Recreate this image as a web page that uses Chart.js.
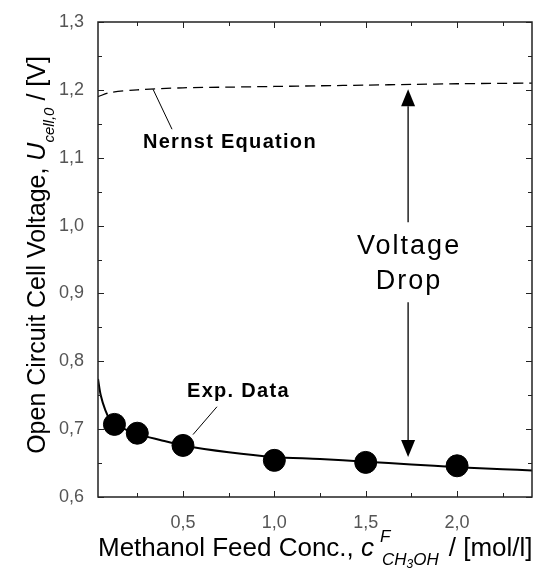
<!DOCTYPE html>
<html>
<head>
<meta charset="utf-8">
<script src="https://cdn.jsdelivr.net/npm/chart.js@4.4.1/dist/chart.umd.min.js"></script>
<style>
  html, body { margin: 0; padding: 0; background: #fff; }
  #wrap { width: 534px; height: 572px; }
</style>
</head>
<body>
<div id="wrap"><canvas id="ocvChart" width="534" height="572"></canvas></div>
<script>
// Experimental open circuit voltage
const concExp = [0.125, 0.25, 0.5, 1.0, 1.5, 2.0];
const voltExp = [0.707, 0.694, 0.676, 0.654, 0.651, 0.646];

// Fitted curve through the data
const concFit = [0.035, 0.05, 0.075, 0.1, 0.125, 0.25, 0.375, 0.5, 0.75, 1.0, 1.25, 1.5, 1.75, 2.0, 2.25, 2.41];
const voltFit = [0.774, 0.750, 0.728, 0.714, 0.707, 0.693, 0.684, 0.676, 0.666, 0.659, 0.656, 0.652, 0.648, 0.644, 0.641, 0.639];

// Nernst equation (dashed)
const concNernst = [0.035, 0.1, 0.25, 0.5, 0.75, 1.0, 1.25, 1.5, 1.75, 2.0, 2.41];
const voltNernst = [1.190, 1.196, 1.200, 1.203, 1.204, 1.205, 1.206, 1.207, 1.208, 1.209, 1.210];

// Axis ticks
const xTicks = [0.5, 1.0, 1.5, 2.0];
const yTicks = [0.6, 0.7, 0.8, 0.9, 1.0, 1.1, 1.2, 1.3];

const toPts = (xs, ys) => xs.map((x, i) => ({ x: x, y: ys[i] }));
const comma = v => v.toFixed(1).replace('.', ',');
const FONT = '"Liberation Sans", Arial, sans-serif';

// frame, inward ticks, titles and annotations
const decorPlugin = {
  id: 'decor',
  afterDraw(chart) {
    const ctx = chart.ctx;
    const a = chart.chartArea;
    const xs = chart.scales.x, ys = chart.scales.y;
    ctx.save();
    ctx.strokeStyle = '#222';
    ctx.lineWidth = 1.5;
    ctx.strokeRect(a.left, a.top, a.right - a.left, a.bottom - a.top);

    // x ticks (every 0.25, major at 0.5)
    ctx.lineWidth = 1;
    for (let v = 0.25; v < xs.max; v += 0.25) {
      if (v < xs.min) continue;
      const px = Math.round(xs.getPixelForValue(v)) + 0.5;
      const len = (Math.abs(v * 2 - Math.round(v * 2)) < 1e-6) ? 6 : 4;
      ctx.beginPath();
      ctx.moveTo(px, a.bottom); ctx.lineTo(px, a.bottom - len);
      ctx.moveTo(px, a.top); ctx.lineTo(px, a.top + len);
      ctx.stroke();
    }
    // y ticks (every 0.05, major at 0.1)
    for (let i = 0; i <= 14; i++) {
      const v = 0.6 + i * 0.05;
      const py = Math.round(ys.getPixelForValue(v)) + 0.5;
      const len = (i % 2 === 0) ? 6 : 4;
      ctx.beginPath();
      ctx.moveTo(a.left, py); ctx.lineTo(a.left + len, py);
      ctx.moveTo(a.right, py); ctx.lineTo(a.right - len, py);
      ctx.stroke();
    }

    // annotations
    ctx.fillStyle = '#000';
    ctx.strokeStyle = '#000';
    const P = (x, y) => [xs.getPixelForValue(x), ys.getPixelForValue(y)];
    const line = (p1, p2, w) => {
      ctx.lineWidth = w;
      ctx.beginPath(); ctx.moveTo(p1[0], p1[1]); ctx.lineTo(p2[0], p2[1]); ctx.stroke();
    };
    ctx.font = 'bold 20px ' + FONT;
    ctx.letterSpacing = '1.3px';
    ctx.textBaseline = 'middle';
    ctx.textAlign = 'left';
    let p = P(0.281, 1.123);
    ctx.fillText('Nernst Equation', p[0], p[1]);
    line(P(0.336, 1.201), P(0.44, 1.142), 1);
    p = P(0.522, 0.755);
    ctx.fillText('Exp. Data', p[0], p[1]);
    line(P(0.686, 0.733), P(0.555, 0.692), 1);

    // voltage drop arrow
    const ax = 1.732;
    const top = P(ax, 1.201), bot = P(ax, 0.659);
    const ah = 17, aw = 7;
    line([top[0], top[1] + ah], P(ax, 1.005), 1.3);
    line(P(ax, 0.887), [bot[0], bot[1] - ah], 1.3);
    ctx.beginPath();
    ctx.moveTo(top[0], top[1]); ctx.lineTo(top[0] - aw, top[1] + ah); ctx.lineTo(top[0] + aw, top[1] + ah);
    ctx.closePath(); ctx.fill();
    ctx.beginPath();
    ctx.moveTo(bot[0], bot[1]); ctx.lineTo(bot[0] - aw, bot[1] - ah); ctx.lineTo(bot[0] + aw, bot[1] - ah);
    ctx.closePath(); ctx.fill();
    ctx.font = '27px ' + FONT;
    ctx.letterSpacing = '2px';
    ctx.textAlign = 'center';
    p = P(ax, 0.969);
    ctx.fillText('Voltage', p[0] + 1, p[1]);
    p = P(ax, 0.918);
    ctx.fillText('Drop', p[0] + 1, p[1]);
    ctx.letterSpacing = '0px';

    // axis titles with sub/superscripts
    ctx.textAlign = 'left';
    ctx.textBaseline = 'alphabetic';

    // x title
    let x = a.left, yb = 556;
    ctx.font = '26px ' + FONT;
    ctx.fillText('Methanol Feed Conc., ', x, yb);
    x += ctx.measureText('Methanol Feed Conc., ').width;
    ctx.font = 'italic 26px ' + FONT;
    ctx.fillText('c', x, yb);
    x += ctx.measureText('c').width + 6;
    ctx.font = 'italic 17px ' + FONT;
    ctx.fillText('F', x, yb - 14);
    let sx = x + 2;
    ctx.fillText('CH', sx, yb + 9); sx += ctx.measureText('CH').width;
    ctx.font = 'italic 12px ' + FONT;
    ctx.fillText('3', sx, yb + 12); sx += ctx.measureText('3').width;
    ctx.font = 'italic 17px ' + FONT;
    ctx.fillText('OH', sx, yb + 9); sx += ctx.measureText('OH').width;
    x = sx + 10;
    ctx.font = '26px ' + FONT;
    ctx.fillText('/ [mol/l]', x, yb);

    // y title (rotated)
    ctx.save();
    ctx.translate(45, 255);
    ctx.rotate(-Math.PI / 2);
    const segs = [
      { t: 'Open Circuit Cell Voltage, ', f: '25px ' + FONT, dy: 0 },
      { t: 'U', f: 'italic 25px ' + FONT, dy: 0 },
      { t: 'cell,0', f: 'italic 15px ' + FONT, dy: 9 },
      { t: ' / [V]', f: '25px ' + FONT, dy: 0 }
    ];
    let total = 0;
    segs.forEach(s => { ctx.font = s.f; s.w = ctx.measureText(s.t).width; total += s.w; });
    let cx = -total / 2;
    segs.forEach(s => { ctx.font = s.f; ctx.fillText(s.t, cx, s.dy); cx += s.w; });
    ctx.restore();

    ctx.restore();
  }
};

new Chart(document.getElementById('ocvChart').getContext('2d'), {
  type: 'scatter',
  data: {
    datasets: [
      {
        label: 'Exp. Data',
        data: toPts(concExp, voltExp),
        pointRadius: 11,
        pointBackgroundColor: '#000',
        pointBorderColor: '#000',
        showLine: false,
        order: 0
      },
      {
        label: 'Fit',
        data: toPts(concFit, voltFit),
        showLine: true,
        borderColor: '#000',
        borderWidth: 2,
        pointRadius: 0,
        tension: 0.3,
        order: 1
      },
      {
        label: 'Nernst Equation',
        data: toPts(concNernst, voltNernst),
        showLine: true,
        borderColor: '#000',
        borderWidth: 1.3,
        borderDash: [10, 6],
        pointRadius: 0,
        tension: 0.3,
        order: 2
      }
    ]
  },
  options: {
    responsive: false,
    animation: false,
    events: [],
    layout: { autoPadding: false, padding: { top: 22, right: 2, left: 0, bottom: 0 } },
    plugins: {
      legend: { display: false },
      tooltip: { enabled: false }
    },
    scales: {
      x: {
        type: 'linear',
        min: 0.035,
        max: 2.41,
        afterBuildTicks: s => { s.ticks = xTicks.map(v => ({ value: v })); },
        afterFit: s => { s.height = 75; },
        grid: { display: false },
        border: { display: false },
        ticks: {
          callback: v => comma(v),
          color: '#555',
          padding: 7,
          maxRotation: 0,
          font: { family: FONT, size: 18 }
        }
      },
      y: {
        type: 'linear',
        min: 0.6,
        max: 1.3,
        afterBuildTicks: s => { s.ticks = yTicks.map(v => ({ value: v })); },
        afterFit: s => { s.width = 98; },
        grid: { display: false },
        border: { display: false },
        ticks: {
          callback: v => comma(v),
          color: '#555',
          padding: 6,
          font: { family: FONT, size: 18 }
        }
      }
    }
  },
  plugins: [decorPlugin]
});
</script>
</body>
</html>
